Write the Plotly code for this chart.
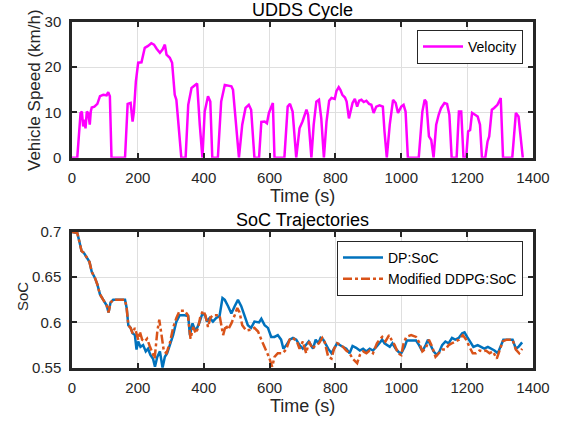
import plotly.graph_objects as go

# ---------------- data ----------------
vel_t = [0, 16, 26, 30, 34, 38, 41, 45, 49, 54, 57, 60, 68, 77, 85, 95, 105, 110, 115, 120,
         161, 169, 178, 184, 188, 194, 201, 211, 221, 231, 241, 249, 257, 267, 275, 282, 287, 297, 304,
         312, 317, 327, 332, 345, 353, 363, 373, 380, 388, 396, 403, 413, 420, 426, 443, 453, 464,
         474, 484, 489, 499, 507, 517, 527, 537, 544, 554, 568, 575, 585, 592, 598, 610, 615, 645,
         655, 662, 670, 681, 691, 700, 712, 717, 727, 734, 742, 750, 757, 765, 773, 781, 788, 798,
         803, 810, 815, 821, 829, 834, 841, 846, 852, 859, 866, 872, 879, 886, 894, 902, 909, 916,
         924, 934, 944, 949, 956, 965, 975, 983, 990, 1000, 1007, 1013, 1020, 1053, 1064, 1071,
         1076, 1084, 1091, 1098, 1106, 1114, 1121, 1131, 1139, 1146, 1153, 1168, 1175, 1182, 1189,
         1197, 1203, 1209, 1215, 1224, 1232, 1239, 1245, 1255, 1262, 1267, 1275, 1282, 1292, 1302,
         1309, 1337, 1348, 1356, 1369]
vel_v = [0, 0, 9.9, 10.2, 6.9, 8.4, 6.5, 10.2, 9.9, 7.3, 10.2, 11.1, 11.3, 11.9, 13.6, 13.9, 13.8, 14.5, 13.6, 0,
         0, 11.9, 12.1, 8.0, 10.2, 16.9, 21.0, 21.1, 24.3, 24.7, 25.3, 25.0, 24.1, 23.2, 23.9, 25.0, 22.8, 22.1, 21.0,
         13.9, 12.8, 5.0, 0, 0, 11.7, 15.4, 16.1, 16.4, 7.3, 0, 10.2, 13.6, 12.4, 0, 0, 12.4, 16.1,
         16.0, 15.8, 15.0, 5.8, 0, 7.3, 11.0, 11.7, 10.6, 0, 0, 7.9, 8.0, 7.6, 9.9, 12.1, 0, 0,
         11.3, 11.9, 10.2, 0, 6.5, 8.0, 10.6, 9.5, 0, 7.3, 12.4, 12.8, 8.7, 0, 8.0, 12.6, 13.2, 13.0,
         14.7, 15.6, 15.0, 13.9, 13.3, 12.4, 8.7, 10.2, 12.1, 13.0, 11.3, 12.6, 12.8, 12.3, 12.6, 11.9, 11.7, 9.9,
         11.3, 11.6, 11.3, 5.8, 0, 7.3, 12.8, 12.1, 9.9, 11.3, 11.7, 10.2, 0, 0, 10.2, 12.8,
         12.3, 4.7, 3.9, 0, 7.3, 9.6, 11.0, 12.1, 11.9, 9.5, 0, 0, 10.2, 10.2, 0,
         0, 5.8, 6.1, 9.9, 9.5, 9.1, 7.3, 0, 0, 3.6, 4.7, 10.6, 11.0, 11.7, 13.2,
         0, 0, 9.9, 9.1, 0]

dp_t = [0, 16, 22, 29, 36, 45, 53, 60, 70, 77, 85, 95, 105, 111, 117, 125, 161, 166, 171, 178, 184,
        191, 196, 201, 208, 216, 224, 231, 238, 246, 252, 259, 267, 275, 282, 289, 297, 307, 317, 327,
        342, 353, 358, 366, 373, 380, 388, 396, 404, 410, 418, 428, 438, 448, 457, 464, 474, 484, 494,
        504, 514, 524, 534, 544, 554, 568, 575, 585, 595, 605, 615, 625, 635, 642, 651, 661, 671, 681,
        691, 701, 711, 719, 732, 740, 748, 755, 763, 771, 778, 788, 796, 805, 818, 833, 843, 852, 863,
        874, 884, 894, 904, 914, 924, 934, 942, 949, 956, 965, 973, 983, 993, 1000, 1010, 1017, 1030,
        1045, 1054, 1064, 1074, 1081, 1089, 1098, 1108, 1116, 1124, 1134, 1144, 1154, 1164, 1175, 1185,
        1192, 1200, 1209, 1219, 1232, 1242, 1252, 1263, 1273, 1283, 1293, 1303, 1310, 1323, 1338, 1348,
        1356, 1367]
dp_soc = [0.700, 0.699, 0.690, 0.679, 0.677, 0.671, 0.667, 0.656, 0.649, 0.642, 0.631, 0.625, 0.619,
          0.611, 0.622, 0.625, 0.625, 0.616, 0.597, 0.594, 0.588,
          0.586, 0.570, 0.579, 0.573, 0.575, 0.568, 0.571, 0.564, 0.560, 0.551, 0.562, 0.568, 0.550,
          0.562, 0.566, 0.575, 0.586, 0.601, 0.608,
          0.608, 0.607, 0.586, 0.599, 0.592, 0.594, 0.601, 0.610, 0.608, 0.601, 0.605, 0.601, 0.605,
          0.607, 0.627, 0.625, 0.618, 0.610, 0.618,
          0.625, 0.618, 0.607, 0.597, 0.594, 0.601, 0.600, 0.604, 0.597, 0.594, 0.584, 0.584, 0.586,
          0.581, 0.571, 0.575, 0.581, 0.583, 0.581,
          0.575, 0.571, 0.575, 0.579, 0.571, 0.581, 0.577, 0.583, 0.581, 0.575, 0.571, 0.566, 0.571,
          0.577, 0.574, 0.571, 0.566, 0.574, 0.572,
          0.569, 0.571, 0.568, 0.571, 0.569, 0.573, 0.577, 0.581, 0.577, 0.575, 0.573, 0.577, 0.571,
          0.567, 0.566, 0.573, 0.580, 0.580,
          0.580, 0.575, 0.568, 0.575, 0.581, 0.575, 0.568, 0.564, 0.568, 0.575, 0.579, 0.577, 0.583,
          0.581, 0.583, 0.588,
          0.589, 0.584, 0.579, 0.573, 0.575, 0.573, 0.571, 0.573, 0.571, 0.569, 0.566, 0.575, 0.581,
          0.581, 0.581, 0.571,
          0.573, 0.578]

ddpg_t = [0, 16, 22, 29, 36, 45, 53, 60, 70, 77, 85, 95, 105, 111, 117, 125, 161, 166, 171, 178, 184,
          191, 201, 206, 213, 221, 228, 236, 244, 251, 259, 265, 272, 279, 287, 297, 307, 317, 327, 342,
          352, 360, 368, 376, 383, 390, 398, 405, 413, 420, 428, 448, 459, 467, 474, 484, 494, 502, 509,
          517, 529, 544, 554, 565, 575, 588, 598, 608, 615, 625, 640, 650, 661, 671, 683, 691, 701, 711,
          720, 730, 740, 750, 760, 767, 778, 788, 796, 805, 818, 833, 843, 852, 859, 866, 874, 884, 894,
          904, 914, 926, 934, 942, 952, 963, 970, 980, 990, 1000, 1007, 1015, 1030, 1045, 1054, 1064,
          1074, 1084, 1094, 1104, 1114, 1124, 1134, 1144, 1154, 1164, 1175, 1187, 1197, 1207, 1217,
          1227, 1237, 1247, 1257, 1268, 1278, 1290, 1298, 1308, 1320, 1338, 1348, 1358, 1367]
ddpg_soc = [0.700, 0.699, 0.690, 0.679, 0.677, 0.671, 0.667, 0.656, 0.649, 0.642, 0.631, 0.625, 0.619,
            0.611, 0.622, 0.625, 0.625, 0.616, 0.597, 0.594, 0.588,
            0.594, 0.581, 0.590, 0.581, 0.579, 0.582, 0.574, 0.566, 0.560, 0.590, 0.603, 0.586, 0.568,
            0.566, 0.577, 0.594, 0.605, 0.613, 0.613,
            0.608, 0.582, 0.595, 0.588, 0.594, 0.607, 0.613, 0.608, 0.595, 0.605, 0.608, 0.608, 0.586,
            0.597, 0.592, 0.599, 0.608, 0.616, 0.611,
            0.597, 0.591, 0.592, 0.594, 0.590, 0.581, 0.571, 0.562, 0.551, 0.562, 0.566, 0.566, 0.570,
            0.581, 0.583, 0.579, 0.571, 0.579, 0.566,
            0.579, 0.571, 0.575, 0.577, 0.583, 0.579, 0.562, 0.560, 0.571, 0.577, 0.575, 0.569, 0.566,
            0.560, 0.557, 0.555, 0.564, 0.568, 0.566,
            0.569, 0.566, 0.577, 0.581, 0.584, 0.579, 0.586, 0.581, 0.575, 0.566, 0.564, 0.577, 0.584,
            0.586, 0.584, 0.578, 0.568,
            0.571, 0.581, 0.573, 0.562, 0.566, 0.570, 0.570, 0.575, 0.577, 0.579, 0.581, 0.586, 0.581,
            0.573, 0.566,
            0.566, 0.569, 0.568, 0.569, 0.566, 0.568, 0.560, 0.568, 0.579, 0.581, 0.581, 0.570, 0.566,
            0.571]

x_ticks = [0, 200, 400, 600, 800, 1000, 1200, 1400]
vel_ticks = [0, 10, 20, 30]
soc_ticks = [0.55, 0.6, 0.65, 0.7]
soc_ticktext = ["0.55", "0.6", "0.65", "0.7"]

# ---------------- figure ----------------
W, H = 563, 421
FONT = "Liberation Sans, Arial, sans-serif"
AX = "#262626"

fig = go.Figure()
fig.add_trace(go.Scatter(x=vel_t, y=vel_v, mode="lines", name="Velocity",
                         line=dict(color="#FF00FF", width=2.5),
                         xaxis="x", yaxis="y", legend="legend"))
fig.add_trace(go.Scatter(x=dp_t, y=dp_soc, mode="lines", name="DP:SoC",
                         line=dict(color="#0072BD", width=2.5),
                         xaxis="x2", yaxis="y2", legend="legend2"))
fig.add_trace(go.Scatter(x=ddpg_t, y=ddpg_soc, mode="lines", name="Modified DDPG:SoC",
                         line=dict(color="#D95319", width=2.5, dash="dashdot"),
                         xaxis="x2", yaxis="y2", legend="legend2"))


def px_x(p):
    return p / W


def px_y(p):
    return 1 - p / H


xdom = [px_x(72), px_x(533)]
xmid = (xdom[0] + xdom[1]) / 2
common_axis = dict(showline=True, linewidth=2.5, linecolor=AX, mirror="ticks",
                   ticks="inside", ticklen=5, tickwidth=2, tickcolor=AX,
                   showgrid=True, gridcolor="#dfdfdf", gridwidth=1, zeroline=False,
                   automargin=False,
                   tickfont=dict(family=FONT, size=15, color=AX))

fig.update_layout(
    width=W, height=H, autosize=False,
    margin=dict(l=0, r=0, t=0, b=0, autoexpand=False),
    paper_bgcolor="white", plot_bgcolor="white",
    font=dict(family=FONT, size=14, color=AX),
    showlegend=True,
    xaxis=dict(domain=xdom, anchor="y", range=[0, 1400], tickvals=x_ticks,
               ticklabelstandoff=5, **common_axis),
    yaxis=dict(domain=[px_y(157.7), px_y(22)], anchor="x", range=[0, 30], tickvals=vel_ticks,
               ticklabelstandoff=5, **common_axis),
    xaxis2=dict(domain=xdom, anchor="y2", range=[0, 1400], tickvals=x_ticks,
                ticklabelstandoff=5, **common_axis),
    yaxis2=dict(domain=[px_y(367.7), px_y(232)], anchor="x2", range=[0.55, 0.7],
                tickvals=soc_ticks, ticktext=soc_ticktext,
                ticklabelstandoff=5, **common_axis),
    legend=dict(x=px_x(523), y=px_y(30), xanchor="right", yanchor="top",
                bgcolor="white", bordercolor=AX, borderwidth=1,
                font=dict(family=FONT, size=14, color="black"),
                itemwidth=40, tracegroupgap=0),
    legend2=dict(x=px_x(523), y=px_y(241), xanchor="right", yanchor="top",
                 bgcolor="white", bordercolor=AX, borderwidth=1,
                 font=dict(family=FONT, size=14, color="black"),
                 itemwidth=40, tracegroupgap=0),
    annotations=[
        dict(text="UDDS Cycle", x=xmid, y=px_y(10), xref="paper", yref="paper",
             showarrow=False, font=dict(family=FONT, size=18, color="black"), yanchor="middle"),
        dict(text="SoC Trajectories", x=xmid, y=px_y(220), xref="paper", yref="paper",
             showarrow=False, font=dict(family=FONT, size=18, color="black"), yanchor="middle"),
        dict(text="Time (s)", x=xmid, y=px_y(196), xref="paper", yref="paper",
             showarrow=False, font=dict(family=FONT, size=18, color=AX), yanchor="middle"),
        dict(text="Time (s)", x=xmid, y=px_y(406), xref="paper", yref="paper",
             showarrow=False, font=dict(family=FONT, size=18, color=AX), yanchor="middle"),
        dict(text="Vehicle Speed (km/h)", x=px_x(34), y=px_y(90), xref="paper", yref="paper",
             showarrow=False, textangle=-90, font=dict(family=FONT, size=17, color=AX),
             xanchor="center", yanchor="middle"),
        dict(text="SoC", x=px_x(22), y=px_y(297), xref="paper", yref="paper",
             showarrow=False, textangle=-90, font=dict(family=FONT, size=15, color=AX),
             xanchor="center", yanchor="middle"),
    ],
)

# remove the default page margin so the 563x421 figure fills the window exactly
fig.write_html("out.html", config={"displayModeBar": False},
               post_script="document.body.style.margin='0';document.body.style.overflow='hidden';")
